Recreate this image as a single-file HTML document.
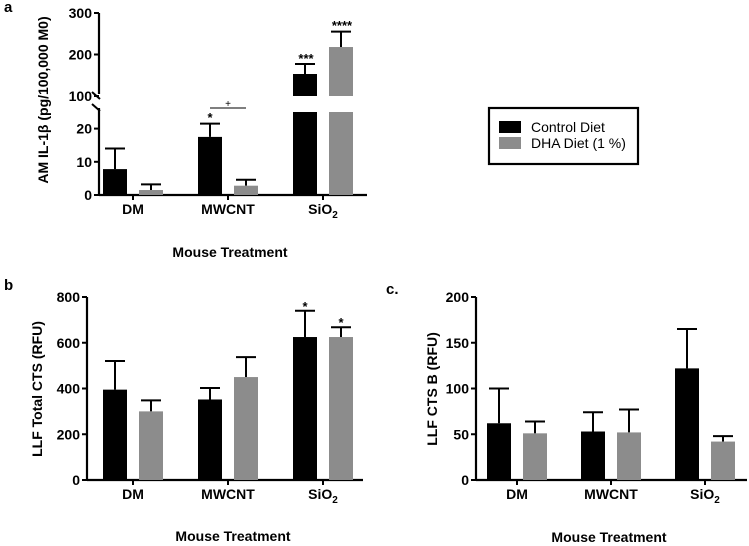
<!DOCTYPE html>
<html><head><meta charset="utf-8"><style>
body{margin:0;background:#fff;}
svg{display:block;font-family:"Liberation Sans",Arial,sans-serif;}
</style></head><body>
<svg id="s" width="749" height="546" xmlns="http://www.w3.org/2000/svg"></svg>
<script>
const categories = ["DM","MWCNT","SiO2"];
const seriesNames = ["Control Diet","DHA Diet (1 %)"];
const aControl = [7.8, 17.5, 153];
const aControlErr = [14, 21.5, 177];
const aDHA = [1.5, 2.8, 218];
const aDHAErr = [3.2, 4.6, 255];
const bControl = [395, 352, 625];
const bControlErr = [520, 402, 740];
const bDHA = [300, 450, 625];
const bDHAErr = [348, 537, 668];
const cControl = [62, 53, 122];
const cControlErr = [100, 74, 165];
const cDHA = [51, 52, 42];
const cDHAErr = [64, 77, 48];
const aTicksLow = [0,10,20];
const aTicksHigh = [100,200,300];
const bTicks = [0,200,400,600,800];
const cTicks = [0,50,100,150,200];

const NS="http://www.w3.org/2000/svg";
const svg=document.getElementById('s');
function mk(tag,attrs,parent){const e=document.createElementNS(NS,tag);for(const k in attrs)e.setAttribute(k,attrs[k]);(parent||svg).appendChild(e);return e;}
function txt(str,x,y,size,anchor,parent,extra){const t=mk('text',Object.assign({x:x,y:y,'font-size':size,'font-weight':'bold','text-anchor':anchor||'middle',fill:'#000'},extra||{}),parent);t.textContent=str;return t;}
const COLORS=['#000','#8c8c8c'];

function panel(cfg){
  const g=mk('g',{});
  
  
  const x0=cfg.x0, x1=cfg.x1, ybase=cfg.ybase;
  const xa=mk('line',{x1:x0,y1:ybase,x2:x1,y2:ybase,stroke:'#000','stroke-width':2.2},g);
  
  
  const cx=i=>cfg.c0+cfg.step*i;
  categories.forEach((c,i)=>{
    mk('line',{x1:cx(i),y1:ybase,x2:cx(i),y2:ybase+5,stroke:'#000','stroke-width':2},g);
    let t;
    if(c==="SiO2"){t=txt('',cx(i),ybase+19,14,'middle',g);t.innerHTML='SiO<tspan font-size="10" dy="4">2</tspan>';}
    else t=txt(c,cx(i),ybase+19,14,'middle',g);
    
    
    const series=[[cfg.ctrl,cfg.ctrlErr],[cfg.dha,cfg.dhaErr]];
    series.forEach((s,k)=>{
      const bx=cx(i)+(k===0?-30:6), bw=24;
      const v=s[0][i], e=s[1][i];
      const top=cfg.y(v);
      const el=mk('path',{d:`M${bx+bw/2},${top} V${cfg.y(e)} M${bx+2},${cfg.y(e)} H${bx+bw-2}`,stroke:'#000','stroke-width':2,fill:'none'},g);
      
      
      if(cfg.broken && v>25){
        const r1=mk('rect',{x:bx,y:cfg.y(25),width:bw,height:ybase-cfg.y(25),fill:COLORS[k]},g);
        
        
        const r2=mk('rect',{x:bx,y:top,width:bw,height:cfg.y(100)-top,fill:COLORS[k]},g);
        
        
      } else {
        const r=mk('rect',{x:bx,y:top,width:bw,height:ybase-top,fill:COLORS[k]},g);
        
        
      }
    });
  });
  if(cfg.broken){
    mk('line',{x1:x0,y1:ybase+1,x2:x0,y2:108,stroke:'#000','stroke-width':2.2},g);
    mk('line',{x1:x0,y1:94,x2:x0,y2:13,stroke:'#000','stroke-width':2.2},g);
    mk('line',{x1:x0-7,y1:92,x2:x0+1,y2:99,stroke:'#000','stroke-width':2},g);
    mk('line',{x1:x0-7,y1:104,x2:x0+1,y2:111,stroke:'#000','stroke-width':2},g);
  } else {
    const ya=mk('line',{x1:x0,y1:ybase+1,x2:x0,y2:cfg.y(cfg.ticks[cfg.ticks.length-1]),stroke:'#000','stroke-width':2.2},g);
    
    
  }
  cfg.ticks.forEach(t=>{
    const y=cfg.y(t);
    mk('line',{x1:x0-5,y1:y,x2:x0,y2:y,stroke:'#000','stroke-width':2},g);
    const l=txt(String(t),x0-7,y+5,14,'end',g);
    
    
  });
  const yt=txt(cfg.ylabel,0,0,14,'middle',g,{transform:`translate(${cfg.ylx},${cfg.yly}) rotate(-90)`});
  
  
  const xt=txt('Mouse Treatment',cfg.xtx,cfg.xty,14,'middle',g);
  
  
  const pl=txt(cfg.label,cfg.lx,cfg.ly,15,'start',g);
  
  
}

const yA=v=> v<=25 ? 195 - v*(195-112)/25 : 96 - (v-100)*0.415;
panel({name:'panel-a',x0:99,x1:367,ybase:195,c0:133,step:95,y:yA,broken:true,ticks:aTicksLow.concat(aTicksHigh),
  ctrl:aControl,ctrlErr:aControlErr,dha:aDHA,dhaErr:aDHAErr,ylabel:'AM IL-1β (pg/100,000 M0)',ylx:48,yly:100,
  xtx:230,xty:257,label:'a',lx:4,ly:12});
const yB=v=>480 - v*(480-297)/800;
panel({name:'panel-b',x0:87,x1:363,ybase:480,c0:133,step:95,y:yB,ticks:bTicks,ctrl:bControl,ctrlErr:bControlErr,dha:bDHA,dhaErr:bDHAErr,
  ylabel:'LLF Total CTS (RFU)',ylx:42,yly:389,xtx:233,xty:541,label:'b',lx:4,ly:290});
const yC=v=>480 - v*(480-297)/200;
panel({name:'panel-c',x0:476,x1:747,ybase:480,c0:517,step:94,y:yC,ticks:cTicks,ctrl:cControl,ctrlErr:cControlErr,dha:cDHA,dhaErr:cDHAErr,
  ylabel:'LLF CTS B (RFU)',ylx:437,yly:389,xtx:609,xty:542,label:'c.',lx:386,ly:294});

function star(s,x,y){const t=txt(s,x,y,13,'middle');}
star('*',210,122);
star('***',306,63);
star('****',342,30);
star('*',305,311);
star('*',341,327);
const br=mk('line',{x1:210,y1:108,x2:246,y2:108,stroke:'#333','stroke-width':1.2});


const pt=txt('+',228,107,10,'middle',null,{'font-weight':'normal'});



const lg=mk('g',{});


mk('rect',{x:489,y:108,width:149,height:56,fill:'#fff',stroke:'#000','stroke-width':2.2},lg);
seriesNames.forEach((n,k)=>{
  const r=mk('rect',{x:499,y:121+k*16,width:22,height:12,fill:COLORS[k]},lg);
  
  
  const t=txt(n,531,132+k*16,14,'start',lg,{'font-weight':'normal'});
  
  
});
</script>
</body></html>
